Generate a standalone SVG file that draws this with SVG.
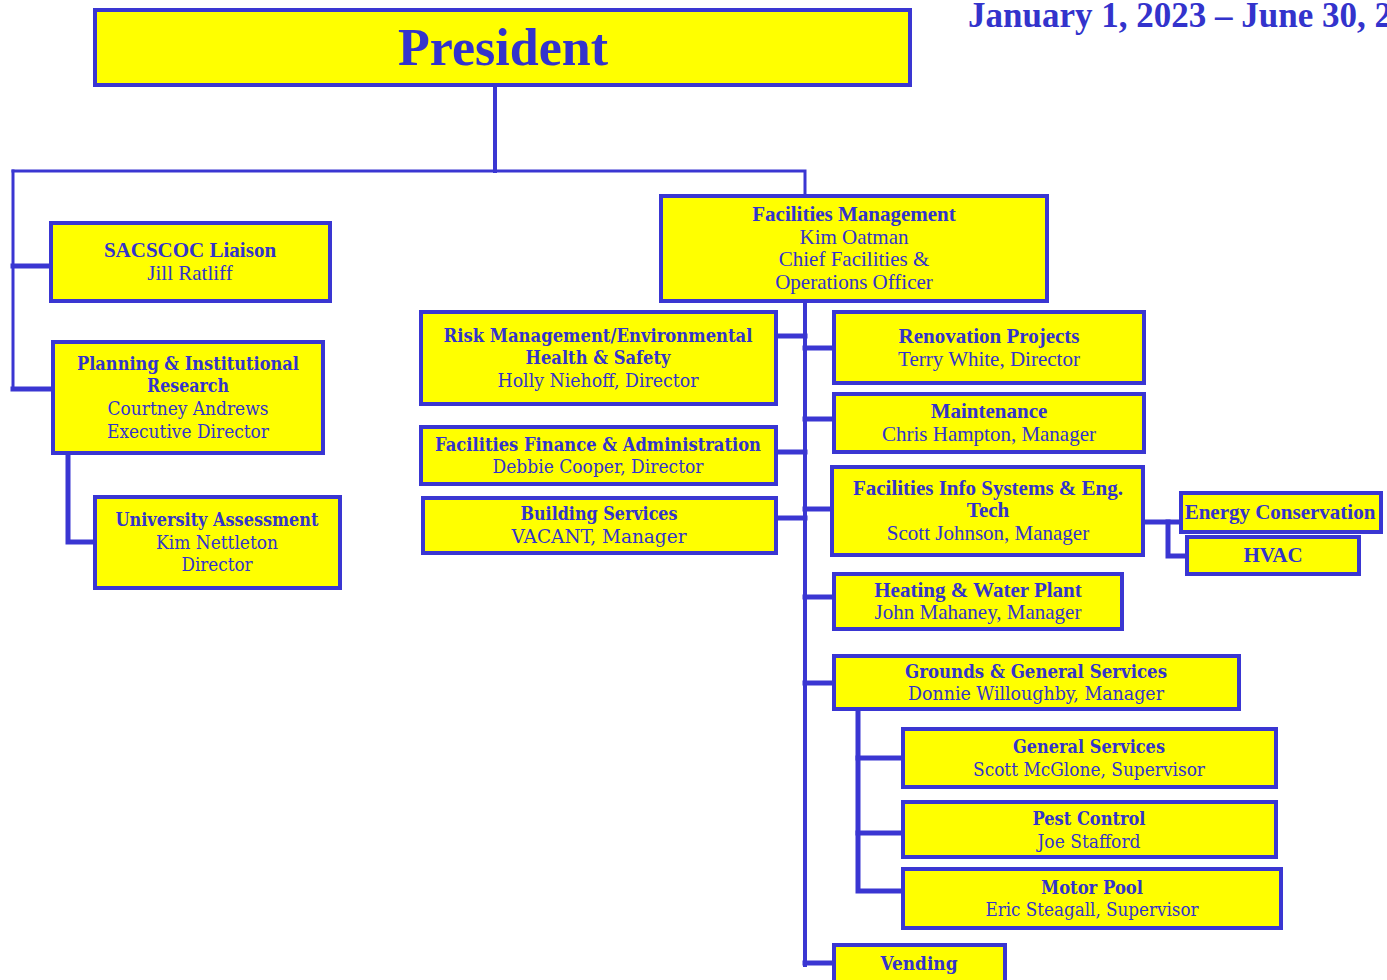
<svg xmlns="http://www.w3.org/2000/svg" width="1387" height="980" viewBox="0 0 1387 980">
<style>
.box{fill:#ffff00;stroke:#3a36d2;stroke-width:4}
.ln{fill:none;stroke:#3a36d2;stroke-linecap:square}
.t{font-family:"Liberation Serif","Times New Roman",serif;font-size:21px;fill:#3333cc;text-anchor:middle}
.k{font-family:"DejaVu Serif","Liberation Serif",serif;font-size:19px;fill:#3333cc;text-anchor:middle}
.b{font-weight:bold}
</style>
<rect width="1387" height="980" fill="#ffffff"/>
<g id="connectors">
<path class="ln" stroke-width="4" d="M495,86 V171"/>
<path class="ln" stroke-width="3" d="M13,171 H805 V195"/>
<path class="ln" stroke-width="3" d="M13,171 V389"/>
<path class="ln" stroke-width="5" d="M13,266 H50"/>
<path class="ln" stroke-width="5" d="M13,389 H52"/>
<path class="ln" stroke-width="5" d="M68,454 V542 H94"/>
<path class="ln" stroke-width="4" d="M805,302 V965"/>
<path class="ln" stroke-width="5" d="M778,336 H805"/>
<path class="ln" stroke-width="5" d="M778,452 H805"/>
<path class="ln" stroke-width="5" d="M778,518 H805"/>
<path class="ln" stroke-width="5" d="M805,348 H832"/>
<path class="ln" stroke-width="5" d="M805,419 H832"/>
<path class="ln" stroke-width="5" d="M805,509 H830"/>
<path class="ln" stroke-width="5" d="M805,597 H832"/>
<path class="ln" stroke-width="5" d="M805,683 H832"/>
<path class="ln" stroke-width="5" d="M805,963 H832"/>
<path class="ln" stroke-width="5" d="M1145,522 H1179"/>
<path class="ln" stroke-width="5" d="M1168,522 V556 H1185"/>
<path class="ln" stroke-width="5" d="M858,710 V891 H901"/>
<path class="ln" stroke-width="5" d="M858,758 H901"/>
<path class="ln" stroke-width="5" d="M858,833 H904"/>
</g>
<g id="date">
<text x="968" y="27" font-family="Liberation Serif,serif" font-size="35" font-weight="bold" fill="#3333cc">January 1, 2023 – June 30, 2024</text>
</g>
<g id="president">
<rect class="box" x="95" y="10" width="815" height="75"/>
<text class="t b" x="503" y="65" style="font-size:52px">President</text>
</g>
<g id="sacscoc">
<rect class="box" x="51" y="223" width="279" height="78"/>
<text class="t b" x="190" y="257">SACSCOC Liaison</text>
<text class="t" x="190" y="280">Jill Ratliff</text>
</g>
<g id="planning">
<rect class="box" x="53" y="342" width="270" height="111"/>
<text class="k b" x="188" y="370" textLength="222" lengthAdjust="spacingAndGlyphs">Planning &amp; Institutional</text>
<text class="k b" x="188" y="392" textLength="82" lengthAdjust="spacingAndGlyphs">Research</text>
<text class="k" x="188" y="415" textLength="161" lengthAdjust="spacingAndGlyphs">Courtney Andrews</text>
<text class="k" x="188" y="438" textLength="162" lengthAdjust="spacingAndGlyphs">Executive Director</text>
</g>
<g id="assessment">
<rect class="box" x="95" y="497" width="245" height="91"/>
<text class="k b" x="217" y="526" textLength="203" lengthAdjust="spacingAndGlyphs">University Assessment</text>
<text class="k" x="217" y="549" textLength="122" lengthAdjust="spacingAndGlyphs">Kim Nettleton</text>
<text class="k" x="217" y="571" textLength="71" lengthAdjust="spacingAndGlyphs">Director</text>
</g>
<g id="facilities-management">
<rect class="box" x="661" y="196" width="386" height="105"/>
<text class="t b" x="854" y="221">Facilities Management</text>
<text class="t" x="854" y="244">Kim Oatman</text>
<text class="t" x="854" y="266">Chief Facilities &amp;</text>
<text class="t" x="854" y="289">Operations Officer</text>
</g>
<g id="risk">
<rect class="box" x="421" y="312" width="355" height="92"/>
<text class="k b" x="598" y="342" textLength="309" lengthAdjust="spacingAndGlyphs">Risk Management/Environmental</text>
<text class="k b" x="598" y="364" textLength="145" lengthAdjust="spacingAndGlyphs">Health &amp; Safety</text>
<text class="k" x="598" y="387" textLength="201" lengthAdjust="spacingAndGlyphs">Holly Niehoff, Director</text>
</g>
<g id="finance">
<rect class="box" x="421" y="427" width="355" height="57"/>
<text class="k b" x="598" y="451" textLength="326" lengthAdjust="spacingAndGlyphs">Facilities Finance &amp; Administration</text>
<text class="k" x="598" y="473" textLength="211" lengthAdjust="spacingAndGlyphs">Debbie Cooper, Director</text>
</g>
<g id="building">
<rect class="box" x="423" y="498" width="353" height="55"/>
<text class="k b" x="599" y="520" textLength="157" lengthAdjust="spacingAndGlyphs">Building Services</text>
<text class="k" x="599" y="543" textLength="175" lengthAdjust="spacingAndGlyphs">VACANT, Manager</text>
</g>
<g id="renovation">
<rect class="box" x="834" y="312" width="310" height="71"/>
<text class="t b" x="989" y="343">Renovation Projects</text>
<text class="t" x="989" y="366">Terry White, Director</text>
</g>
<g id="maintenance">
<rect class="box" x="834" y="394" width="310" height="58"/>
<text class="t b" x="989" y="418">Maintenance</text>
<text class="t" x="989" y="441">Chris Hampton, Manager</text>
</g>
<g id="info-systems">
<rect class="box" x="832" y="467" width="311" height="88"/>
<text class="t b" x="988" y="495">Facilities Info Systems &amp; Eng.</text>
<text class="t b" x="988" y="517">Tech</text>
<text class="t" x="988" y="540">Scott Johnson, Manager</text>
</g>
<g id="energy">
<rect class="box" x="1181" y="493" width="200" height="39"/>
<text class="t b" x="1280" y="519">Energy Conservation</text>
</g>
<g id="hvac">
<rect class="box" x="1187" y="537" width="172" height="37"/>
<text class="t b" x="1273" y="562">HVAC</text>
</g>
<g id="heating">
<rect class="box" x="834" y="574" width="288" height="55"/>
<text class="t b" x="978" y="597">Heating &amp; Water Plant</text>
<text class="t" x="978" y="619">John Mahaney, Manager</text>
</g>
<g id="grounds">
<rect class="box" x="834" y="656" width="405" height="53"/>
<text class="k b" x="1036" y="678" textLength="262" lengthAdjust="spacingAndGlyphs">Grounds &amp; General Services</text>
<text class="k" x="1036" y="700" textLength="256" lengthAdjust="spacingAndGlyphs">Donnie Willoughby, Manager</text>
</g>
<g id="general-services">
<rect class="box" x="903" y="729" width="373" height="58"/>
<text class="k b" x="1089" y="753" textLength="152" lengthAdjust="spacingAndGlyphs">General Services</text>
<text class="k" x="1089" y="776" textLength="232" lengthAdjust="spacingAndGlyphs">Scott McGlone, Supervisor</text>
</g>
<g id="pest-control">
<rect class="box" x="903" y="802" width="373" height="55"/>
<text class="k b" x="1089" y="825" textLength="113" lengthAdjust="spacingAndGlyphs">Pest Control</text>
<text class="k" x="1089" y="848" textLength="103" lengthAdjust="spacingAndGlyphs">Joe Stafford</text>
</g>
<g id="motor-pool">
<rect class="box" x="903" y="869" width="378" height="59"/>
<text class="k b" x="1092" y="894" textLength="102" lengthAdjust="spacingAndGlyphs">Motor Pool</text>
<text class="k" x="1092" y="916" textLength="213" lengthAdjust="spacingAndGlyphs">Eric Steagall, Supervisor</text>
</g>
<g id="vending">
<rect class="box" x="834" y="945" width="171" height="45"/>
<text class="k b" x="919" y="970" textLength="77" lengthAdjust="spacingAndGlyphs">Vending</text>
</g>
</svg>
